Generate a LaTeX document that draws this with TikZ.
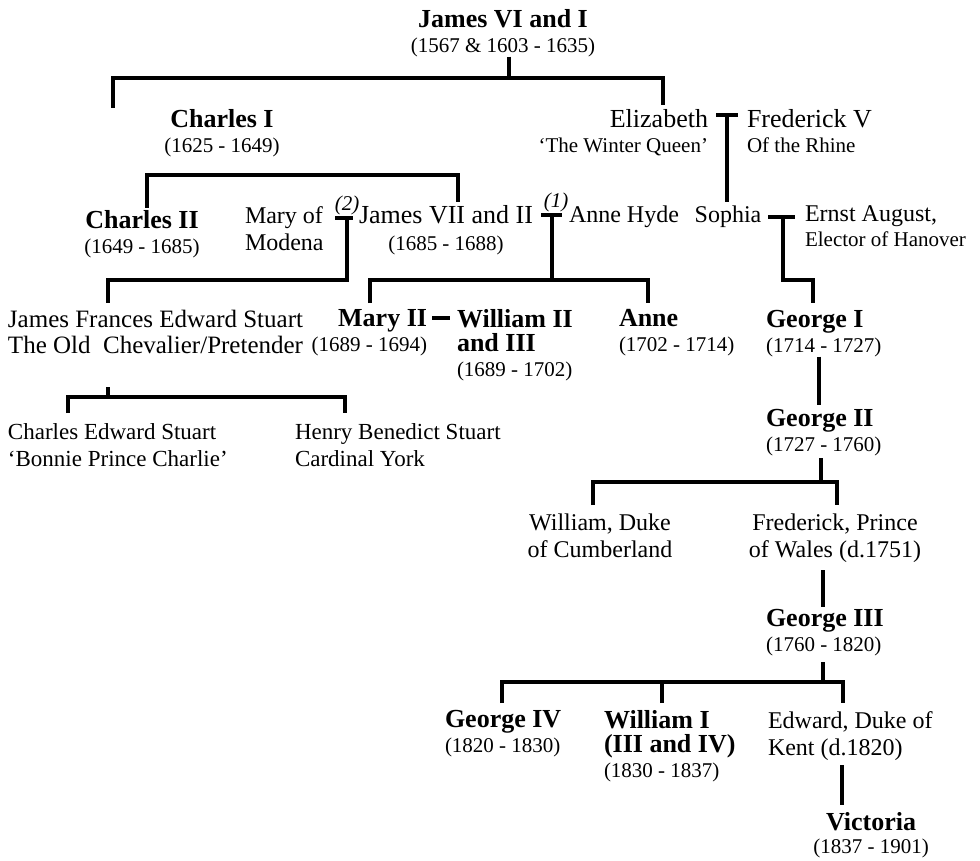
\documentclass[tikz,border=0pt]{standalone}
\usepackage{fontspec}
\setmainfont{Liberation Serif}
\usetikzlibrary{positioning}
\newcommand{\bnm}{\fontsize{26}{25}\selectfont\bfseries}
\newcommand{\dte}{\fontsize{21}{25}\selectfont}
\newcommand{\rnm}{\fontsize{26}{25}\selectfont}
\newcommand{\snm}{\fontsize{24}{27}\selectfont}
\tikzset{
  tie/.style={line width=3.2pt},
  person/.style={inner sep=0pt,outer sep=0pt,font=\dte,align=center,anchor=north},
  personL/.style={person,align=left,anchor=north west},
  personR/.style={person,align=right,anchor=north east},
  wedno/.style={inner sep=0pt,font=\fontsize{21}{25}\selectfont\itshape,anchor=base}
}

\begin{document}
\begin{tikzpicture}[x=1pt,y=-1pt]
  \useasboundingbox (0,0) rectangle (980,861);

  % people
  \node[person] (jamesvi) at (503,9) {{\bnm James VI and I}\\(1567 \& 1603 - 1635)};
  \node[person] (charlesi) at (222,109) {{\bnm Charles I}\\(1625 - 1649)};
  \node[personR] (eliz) at (708,109) {{\rnm Elizabeth}\\‘The Winter Queen’};
  \node[personL] (fred) at (747,109) {{\rnm Frederick V}\\Of the Rhine};
  \node[person] (charlesii) at (142,210) {{\bnm Charles II}\\(1649 - 1685)};
  \node[personL,font=\snm] (modena) at (245,206.5) {Mary of\\Modena};
  \node[person] (jamesvii) at (446,205) {{\rnm James VII and II}\\[2pt](1685 - 1688)};
  \node[personL,font=\snm] (hyde) at (569,205.5) {Anne Hyde};
  \node[person,font=\snm] (sophia) at (728,205.5) {Sophia};
  \node[personL] (ernst) at (805,205.5) {{\snm Ernst August,}\\Elector of Hanover};
  \node[personL,font=\fontsize{25}{26}\selectfont] (jfes) at (8,310) {James Frances Edward Stuart\\The Old\ \ Chevalier/Pretender};
  \node[personR] (maryii) at (427,309) {{\bnm Mary II}\\(1689 - 1694)};
  \node[personL] (williamii) at (457,309) {{\bnm William II}\\[-1pt]{\bnm and III}\\(1689 - 1702)};
  \node[personL] (anne) at (619,309) {{\bnm Anne}\\(1702 - 1714)};
  \node[personL] (georgei) at (766,310) {{\bnm George I}\\(1714 - 1727)};
  \node[personL,font=\fontsize{23}{27}\selectfont] (charlesed) at (8,424) {Charles Edward Stuart\\‘Bonnie Prince Charlie’};
  \node[personL,font=\fontsize{23}{27}\selectfont] (henry) at (295,424) {Henry Benedict Stuart\\Cardinal York};
  \node[personL] (georgeii) at (766,409) {{\bnm George II}\\(1727 - 1760)};
  \node[person,font=\snm] (cumberland) at (600,513.5) {William, Duke\\of Cumberland};
  \node[person,font=\snm] (frederick) at (835,513.5) {Frederick, Prince\\of Wales (d.1751)};
  \node[personL] (georgeiii) at (766,609) {{\bnm George III}\\(1760 - 1820)};
  \node[personL] (georgeiv) at (445,710) {{\bnm George IV}\\(1820 - 1830)};
  \node[personL] (williami) at (604,710) {{\bnm William I}\\[-1pt]{\bnm (III and IV)}\\(1830 - 1837)};
  \node[personL,font=\snm] (edward) at (768,711.5) {Edward, Duke of\\Kent (d.1820)};
  \node[person] (victoria) at (871,812) {{\bnm Victoria}\\[-2pt](1837 - 1901)};

  % marriage numbers
  \node[wedno] (wedA) at (556,208) {(1)};
  \node[wedno] (wedB) at (347,211) {(2)};

  % James VI and I
  \coordinate (jvBar) at (509,78);
  \coordinate (ciTop) at (113,108);
  \coordinate (elTop) at (663,105);
  \draw[tie] (jamesvi.south -| jvBar) -- (jvBar);
  \draw[tie] (ciTop) |- (jvBar) -| (elTop);

  % Charles I
  \coordinate (ciiTop) at (147,208);
  \coordinate (ciBarR) at (458,175);
  \coordinate (jviiTop) at (458,202);
  \draw[tie] (ciiTop) |- (ciBarR) -- (jviiTop);

  % Elizabeth and Frederick V
  \coordinate (efL) at (716,115);
  \coordinate (efR) at (738,115);
  \coordinate (soTop) at (727,202);
  \draw[tie] (efL) -- (efR);
  \draw[tie] (efL -| soTop) -- (soTop);

  % (2) Mary of Modena
  \coordinate (mmL) at (335,218);
  \coordinate (mmR) at (353,218);
  \coordinate (mmBar) at (347,280);
  \coordinate (jfTop) at (108,303);
  \draw[tie] (mmL) -- (mmR);
  \draw[tie] (mmL -| mmBar) -- (mmBar) -| (jfTop);

  % (1) Anne Hyde
  \coordinate (ahL) at (541,215);
  \coordinate (ahR) at (562,215);
  \coordinate (ahBar) at (552,280);
  \coordinate (m2Top) at (370,303);
  \coordinate (anTop) at (648,303);
  \draw[tie] (ahL) -- (ahR);
  \draw[tie] (ahL -| ahBar) -- (ahBar);
  \draw[tie] (m2Top) |- (anTop |- ahBar) -- (anTop);

  % Sophia and Ernst August
  \coordinate (seL) at (768,217);
  \coordinate (seR) at (795,217);
  \coordinate (seKnee) at (783,280);
  \coordinate (g1Top) at (813,303);
  \draw[tie] (seL) -- (seR);
  \draw[tie] (seL -| seKnee) -- (seKnee) -| (g1Top);

  % Mary II and William
  \coordinate (mwL) at (432,318);
  \coordinate (mwR) at (450,318);
  \draw[tie] (mwL) -- (mwR);

  % James Frances Edward Stuart
  \coordinate (jfLow) at (108,387);
  \coordinate (jfBar) at (108,397);
  \coordinate (ceTop) at (68,413);
  \coordinate (hbTop) at (345,413);
  \draw[tie] (jfLow) -- (jfBar);
  \draw[tie] (ceTop) |- (hbTop |- jfBar) -- (hbTop);

  % George I
  \coordinate (g2Top) at (819,405);
  \draw[tie] (georgei.south -| g2Top) -- (g2Top);

  % George II
  \coordinate (g2Low) at (821,458);
  \coordinate (g2Bar) at (821,482);
  \coordinate (wcTop) at (593,505);
  \coordinate (fpTop) at (837,505);
  \draw[tie] (g2Low) -- (g2Bar);
  \draw[tie] (wcTop) |- (fpTop |- g2Bar) -- (fpTop);

  % Frederick, Prince of Wales
  \coordinate (fpLow) at (823,570);
  \coordinate (g3Top) at (823,607);
  \draw[tie] (fpLow) -- (g3Top);

  % George III
  \coordinate (g3Low) at (823,662);
  \coordinate (g3Bar) at (823,682);
  \coordinate (g4Top) at (502,703);
  \coordinate (w4Top) at (662,703);
  \coordinate (edTop) at (843,703);
  \draw[tie] (g3Low) -- (g3Bar);
  \draw[tie] (g4Top) |- (edTop |- g3Bar) -- (edTop);
  \draw[tie] (w4Top) -- (w4Top |- g3Bar);

  % Edward, Duke of Kent
  \coordinate (edLow) at (842,765);
  \coordinate (viTop) at (842,805);
  \draw[tie] (edLow) -- (viTop);
\end{tikzpicture}
\end{document}
